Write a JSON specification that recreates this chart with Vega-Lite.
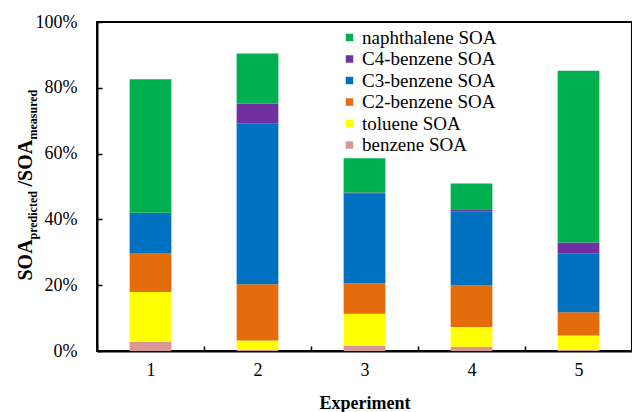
{
  "$schema": "https://vega.github.io/schema/vega-lite/v6.json",
  "width": 535,
  "height": 329,
  "autosize": {"type": "none"},
  "padding": {"left": 97, "top": 22, "right": 0, "bottom": 61},
  "background": "white",
  "config": {"view": {"stroke": "black", "strokeWidth": 2}, "font": "Liberation Serif"},
  "data": {
    "values": [
      {"exp": "1", "species": "benzene SOA", "k": 1, "value": 0.028},
      {"exp": "1", "species": "toluene SOA", "k": 2, "value": 0.151},
      {"exp": "1", "species": "C2-benzene SOA", "k": 3, "value": 0.119},
      {"exp": "1", "species": "C3-benzene SOA", "k": 4, "value": 0.122},
      {"exp": "1", "species": "C4-benzene SOA", "k": 5, "value": 0.0},
      {"exp": "1", "species": "naphthalene SOA", "k": 6, "value": 0.406},
      {"exp": "2", "species": "benzene SOA", "k": 1, "value": 0.003},
      {"exp": "2", "species": "toluene SOA", "k": 2, "value": 0.029},
      {"exp": "2", "species": "C2-benzene SOA", "k": 3, "value": 0.171},
      {"exp": "2", "species": "C3-benzene SOA", "k": 4, "value": 0.489},
      {"exp": "2", "species": "C4-benzene SOA", "k": 5, "value": 0.06},
      {"exp": "2", "species": "naphthalene SOA", "k": 6, "value": 0.152},
      {"exp": "3", "species": "benzene SOA", "k": 1, "value": 0.016},
      {"exp": "3", "species": "toluene SOA", "k": 2, "value": 0.097},
      {"exp": "3", "species": "C2-benzene SOA", "k": 3, "value": 0.093},
      {"exp": "3", "species": "C3-benzene SOA", "k": 4, "value": 0.272},
      {"exp": "3", "species": "C4-benzene SOA", "k": 5, "value": 0.004},
      {"exp": "3", "species": "naphthalene SOA", "k": 6, "value": 0.104},
      {"exp": "4", "species": "benzene SOA", "k": 1, "value": 0.013},
      {"exp": "4", "species": "toluene SOA", "k": 2, "value": 0.06},
      {"exp": "4", "species": "C2-benzene SOA", "k": 3, "value": 0.126},
      {"exp": "4", "species": "C3-benzene SOA", "k": 4, "value": 0.224},
      {"exp": "4", "species": "C4-benzene SOA", "k": 5, "value": 0.008},
      {"exp": "4", "species": "naphthalene SOA", "k": 6, "value": 0.078},
      {"exp": "5", "species": "benzene SOA", "k": 1, "value": 0.003},
      {"exp": "5", "species": "toluene SOA", "k": 2, "value": 0.044},
      {"exp": "5", "species": "C2-benzene SOA", "k": 3, "value": 0.071},
      {"exp": "5", "species": "C3-benzene SOA", "k": 4, "value": 0.179},
      {"exp": "5", "species": "C4-benzene SOA", "k": 5, "value": 0.033},
      {"exp": "5", "species": "naphthalene SOA", "k": 6, "value": 0.522}
    ]
  },
  "layer": [
    {
      "mark": {"type": "bar", "width": {"band": 0.39}},
      "encoding": {
        "x": {
          "field": "exp",
          "type": "ordinal",
          "scale": {"paddingInner": 0, "paddingOuter": 0},
          "axis": {
            "title": "Experiment",
            "titleFont": "Liberation Serif",
            "titleFontSize": 18,
            "titleFontWeight": "bold",
            "titleColor": "black",
            "titlePadding": 15,
            "labelAngle": 0,
            "labelFont": "Liberation Serif",
            "labelFontSize": 18,
            "labelColor": "black",
            "labelPadding": 15,
            "domainColor": "black",
            "domainWidth": 2,
            "tickBand": "extent",
            "tickColor": "black",
            "tickWidth": 1.5,
            "tickSize": -5
          }
        },
        "y": {
          "field": "value",
          "type": "quantitative",
          "stack": "zero",
          "scale": {"domain": [0, 1]},
          "axis": {
            "orient": "left",
            "values": [0, 0.2, 0.4, 0.6, 0.8, 1],
            "format": ".0%",
            "grid": false,
            "labelFont": "Liberation Serif",
            "labelFontSize": 18,
            "labelColor": "black",
            "labelPadding": 25,
            "domainColor": "black",
            "domainWidth": 2,
            "tickColor": "black",
            "tickWidth": 1.5,
            "tickSize": -5,
            "title": "SOA",
            "titleFont": "Liberation Serif",
            "titleFontSize": 20,
            "titleFontWeight": "bold",
            "titleColor": "black",
            "titleAngle": -90,
            "titleAlign": "left",
            "titleBaseline": "alphabetic",
            "titleX": -66,
            "titleY": 258
          }
        },
        "color": {
          "field": "species",
          "type": "nominal",
          "scale": {
            "domain": ["naphthalene SOA", "C4-benzene SOA", "C3-benzene SOA", "C2-benzene SOA", "toluene SOA", "benzene SOA"],
            "range": ["#00B050", "#7030A0", "#0070C0", "#E46C0A", "#FFFF00", "#D99694"]
          },
          "legend": {
            "orient": "none",
            "legendX": 243,
            "legendY": 6,
            "title": null,
            "symbolType": "square",
            "symbolSize": 56,
            "symbolStrokeWidth": 0,
            "labelFont": "Liberation Serif",
            "labelFontSize": 19,
            "labelColor": "black",
            "labelOffset": 3,
            "rowPadding": 1.5,
            "padding": 0
          }
        },
        "order": {"field": "k", "type": "quantitative"}
      }
    },
    {
      "data": {"values": [{}]},
      "mark": {"type": "rule", "strokeOpacity": 0},
      "encoding": {
        "y": {
          "datum": 0,
          "type": "quantitative",
          "axis": {
            "orient": "left",
            "domain": false, "ticks": false, "labels": false, "grid": false,
            "title": "predicted",
            "titleFont": "Liberation Serif",
            "titleFontSize": 12,
            "titleFontWeight": "bold",
            "titleColor": "black",
            "titleAngle": -90,
            "titleAlign": "left",
            "titleBaseline": "alphabetic",
            "titleX": -61,
            "titleY": 217
          }
        }
      }
    },
    {
      "data": {"values": [{}]},
      "mark": {"type": "rule", "strokeOpacity": 0},
      "encoding": {
        "y": {
          "datum": 0,
          "type": "quantitative",
          "axis": {
            "orient": "left",
            "domain": false, "ticks": false, "labels": false, "grid": false,
            "title": "/SOA",
            "titleFont": "Liberation Serif",
            "titleFontSize": 20,
            "titleFontWeight": "bold",
            "titleColor": "black",
            "titleAngle": -90,
            "titleAlign": "left",
            "titleBaseline": "alphabetic",
            "titleX": -66,
            "titleY": 164
          }
        }
      }
    },
    {
      "data": {"values": [{}]},
      "mark": {"type": "rule", "strokeOpacity": 0},
      "encoding": {
        "y": {
          "datum": 0,
          "type": "quantitative",
          "axis": {
            "orient": "left",
            "domain": false, "ticks": false, "labels": false, "grid": false,
            "title": "measured",
            "titleFont": "Liberation Serif",
            "titleFontSize": 12,
            "titleFontWeight": "bold",
            "titleColor": "black",
            "titleAngle": -90,
            "titleAlign": "left",
            "titleBaseline": "alphabetic",
            "titleX": -61,
            "titleY": 117
          }
        }
      }
    }
  ],
  "resolve": {"axis": {"y": "independent"}}
}
